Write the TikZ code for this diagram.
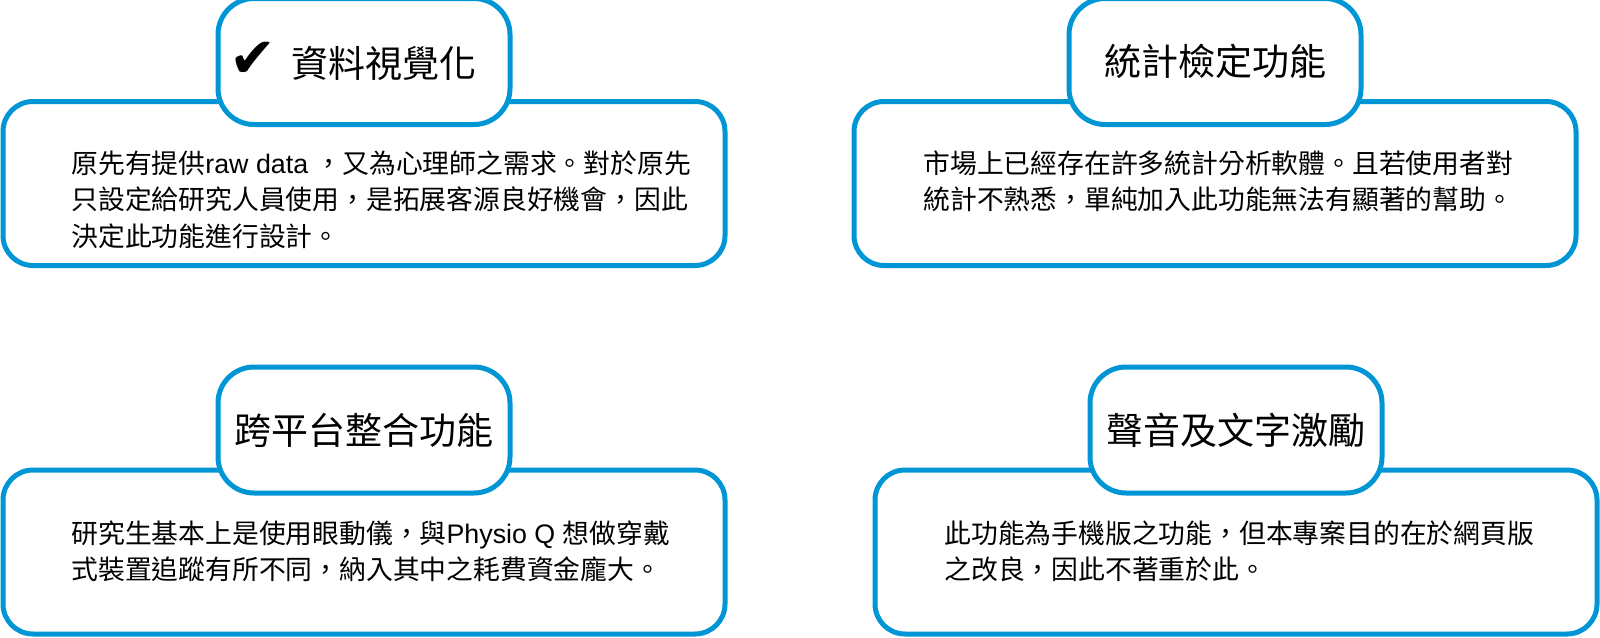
\documentclass[tikz,border=0pt]{standalone}
\usepackage{fontspec}
\setmainfont{Noto Sans CJK TC}
\newfontfamily\latinfont{Liberation Sans}
\newfontfamily\symfont{DejaVu Sans}
\usetikzlibrary{positioning}
\definecolor{frameblue}{RGB}{0,150,214}
\tikzset{
  bodybox/.style={draw=frameblue, line width=2.5pt, rounded corners=15pt, fill=white,
    minimum width=361pt, minimum height=82pt, inner sep=0pt},
  titlebox/.style={draw=frameblue, line width=2.5pt, rounded corners=18pt, fill=white,
    minimum width=146pt, minimum height=63pt, inner sep=0pt,
    font=\fontsize{18.5}{22}\selectfont},
  bodytext/.style={anchor=north west, inner sep=0pt, align=left,
    font=\fontsize{13.4}{18.4}\selectfont}
}
\begin{document}
\begin{tikzpicture}[x=0.5pt, y=-0.5pt]
\useasboundingbox (0,0) rectangle (1600,637);

% Large frames
\node[bodybox] (visBox) at (364, 183.5) {};
\node[bodybox] (statBox) at (1215, 183.5) {};
\node[bodybox] (crossBox) at (364, 552) {};
\node[bodybox] (voiceBox) at (1236, 552) {};

% Title tabs on top of the frames
\node[titlebox, above=-14pt of visBox.north] (visTitle)
  {{\symfont\fontsize{28}{28}\selectfont ✔}\hspace{8pt}資料視覺化\hspace{11pt}\null};
\node[titlebox, above=-14pt of statBox.north] (statTitle) {統計檢定功能};
\node[titlebox, above=-14pt of crossBox.north] (crossTitle) {跨平台整合功能};
\node[titlebox, above=-14pt of voiceBox.north] (voiceTitle) {聲音及文字激勵};

% Body texts
\node[bodytext] (visText) at (71, 150)
  {原先有提供{\latinfont raw data }，又為心理師之需求。對於原先\\
   只設定給研究人員使用，是拓展客源良好機會，因此\\
   決定此功能進行設計。};
\node[bodytext] (statText) at (923, 150)
  {市場上已經存在許多統計分析軟體。且若使用者對\\
   統計不熟悉，單純加入此功能無法有顯著的幫助。};
\node[bodytext] (crossText) at (71, 520)
  {研究生基本上是使用眼動儀，與{\latinfont Physio Q }想做穿戴\\
   式裝置追蹤有所不同，納入其中之耗費資金龐大。};
\node[bodytext] (voiceText) at (944, 520)
  {此功能為手機版之功能，但本專案目的在於網頁版\\
   之改良，因此不著重於此。};
\end{tikzpicture}
\end{document}
